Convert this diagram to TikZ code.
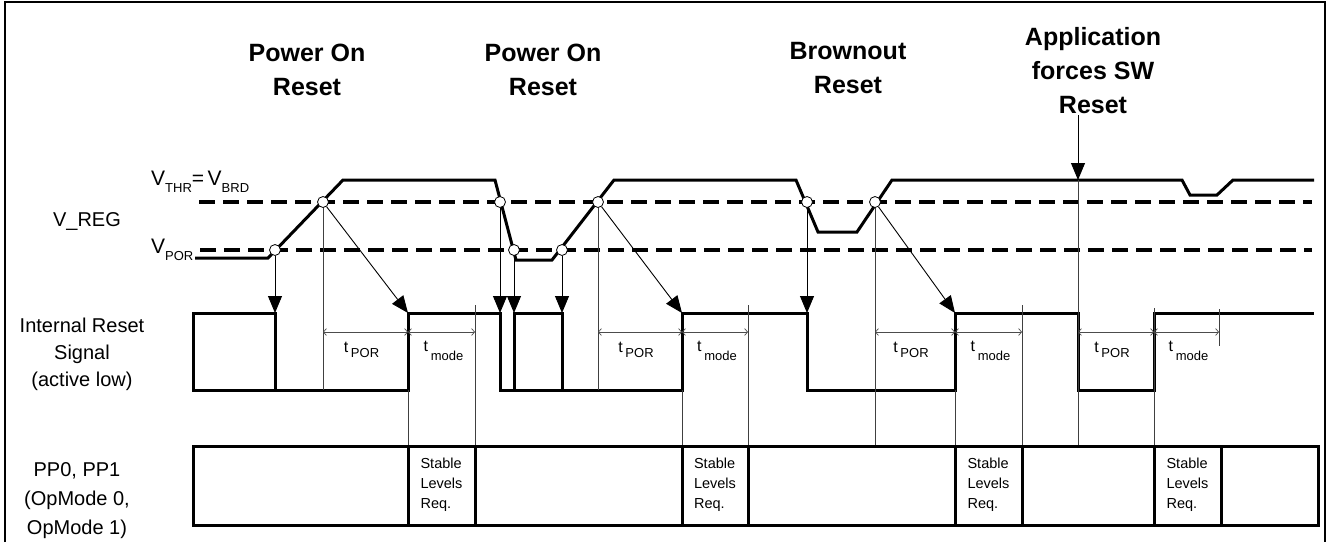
\documentclass[tikz,border=0pt]{standalone}
\usepackage{fontspec}
\setmainfont{Liberation Sans}
\usetikzlibrary{arrows.meta}
\newcommand{\lowsub}[2][6]{\raisebox{-#1pt}{\fontsize{13}{13}\selectfont #2}}

\begin{document}
\begin{tikzpicture}[x=1pt,y=-1pt,
  wave/.style={line width=3pt},
  level/.style={line width=4pt,dash pattern=on 16pt off 8pt},
  guide/.style={line width=0.8pt,black!75},
  crc/.style={circle,draw,fill=white,inner sep=0pt,minimum size=11pt,line width=0.8pt},
  trig/.style={line width=0.9pt,-{Triangle[length=17pt,width=14pt]}},
  dim/.style={line width=0.7pt,black!70,{Straight Barb[length=3pt,width=7pt]}-{Straight Barb[length=3pt,width=7pt]}},
  title/.style={font=\fontsize{25}{34}\selectfont\bfseries,align=center},
  side/.style={font=\fontsize{20}{28}\selectfont,align=center},
  cell/.style={font=\fontsize{14.5}{20}\selectfont,align=left},
  tlab/.style={font=\fontsize{16}{16}\selectfont}]
\useasboundingbox (0,0) rectangle (1333,542);
\draw[line width=1.5pt] (5,542) -- (5,2) -- (1325,2) -- (1325,542);

% titles
\node[title] (por1) at (307,70) {Power On\\Reset};
\node[title] (por2) at (543,70) {Power On\\Reset};
\node[title] (bor) at (848,68) {Brownout\\Reset};
\node[title] (swr) at (1093,71) {Application\\forces SW\\Reset};

% left side labels
\node[side] (vreg) at (87,221) {V\_REG};
\node[side,font=\fontsize{20}{27}\selectfont] (irs) at (82,354) {Internal Reset\\Signal\\(active low)};
\node[side,font=\fontsize{20}{29}\selectfont] (pp) at (77,501) {PP0, PP1\\(OpMode 0,\\OpMode 1)};
\node[anchor=base west,inner sep=0pt,font=\fontsize{21}{21}\selectfont] (vthr) at (151,185)
  {V\lowsub[7]{THR}=\,V\lowsub[7]{BRD}};
\node[anchor=base west,inner sep=0pt,font=\fontsize{21}{21}\selectfont] (vpor) at (151,253)
  {V\lowsub[7]{POR}};

% threshold levels
\draw[level] (199,202) -- (1312,202);
\draw[level] (200,250) -- (1312,250);

% V_REG
\draw[wave] (195,258) -- (268,258) -- (343,180) -- (495,180) -- (516,260) -- (552,260)
  -- (614,180) -- (796,180) -- (818,232) -- (857,232) -- (892,180) -- (1182,180)
  -- (1190,195) -- (1217,195) -- (1233,180) -- (1314,180);

% internal reset signal
\draw[wave] (275,390) -- (275,313) -- (193,313) -- (193,390) -- (408,390) -- (408,313)
  -- (500,313) -- (500,390) -- (514,390) -- (514,313) -- (562,313) -- (562,390)
  -- (682,390) -- (682,313) -- (807,313) -- (807,390) -- (955,390) -- (955,313)
  -- (1078,313) -- (1078,390) -- (1154,390) -- (1154,313) -- (1314,313);
\draw[wave] (514,390) -- (562,390);

% guide lines
\foreach \x/\a/\b in {323/202/390,408/390/446,475/305/446,598/202/390,682/390/446,
  748/305/446,875/202/446,955/390/446,1022/305/446,1078/180/446,1154/308/446,1219/309/346}
  \draw[guide] (\x,\a) -- (\x,\b);

% PP0, PP1
\draw[wave] (193,446) rectangle (1318,525);
\foreach \x in {408,475,682,748,955,1022,1154,1221}
  \draw[wave] (\x,446) -- (\x,525);
\foreach \a/\b in {408/475,682/748,955/1022,1154/1221}
  \node[cell] at ({(\a+\b)/2},485) {Stable\\Levels\\Req.};

% timings
\foreach \a/\b in {323/408,598/682,875/955,1078/1154} {
  \draw[dim] (\a,332) -- (\b,332);
  \node[tlab] at ({(\a+\b)/2-4},350) {t\,\lowsub[5]{POR}};
}
\foreach \a/\b in {408/475,682/748,955/1022,1154/1219} {
  \draw[dim] (\a,332) -- (\b,332);
  \node[tlab] at ({(\a+\b)/2+2},351) {t\,\lowsub[9]{mode}};
}

% crossing points
\draw (275,250) node[crc] (c1) {};
\draw (323,202) node[crc] (c2) {};
\draw (500,202) node[crc] (c3) {};
\draw (514,250) node[crc] (c4) {};
\draw (562,250) node[crc] (c5) {};
\draw (598,202) node[crc] (c6) {};
\draw (807,202) node[crc] (c7) {};
\draw (875,202) node[crc] (c8) {};

\coordinate (r1) at (275,313);
\coordinate (r2) at (408,313);
\coordinate (r3) at (500,313);
\coordinate (r4) at (514,313);
\coordinate (r5) at (562,313);
\coordinate (r6) at (682,313);
\coordinate (r7) at (807,313);
\coordinate (r8) at (955,313);
\coordinate (sw) at (1078,115);
\coordinate (swtop) at (1078,180);

\draw[trig] (c1) -- (r1);
\draw[trig] (c2) -- (r2);
\draw[trig] (c3) -- (r3);
\draw[trig] (c4) -- (r4);
\draw[trig] (c5) -- (r5);
\draw[trig] (c6) -- (r6);
\draw[trig] (c7) -- (r7);
\draw[trig] (c8) -- (r8);
\draw[trig] (sw) -- (swtop);
\end{tikzpicture}
\end{document}
